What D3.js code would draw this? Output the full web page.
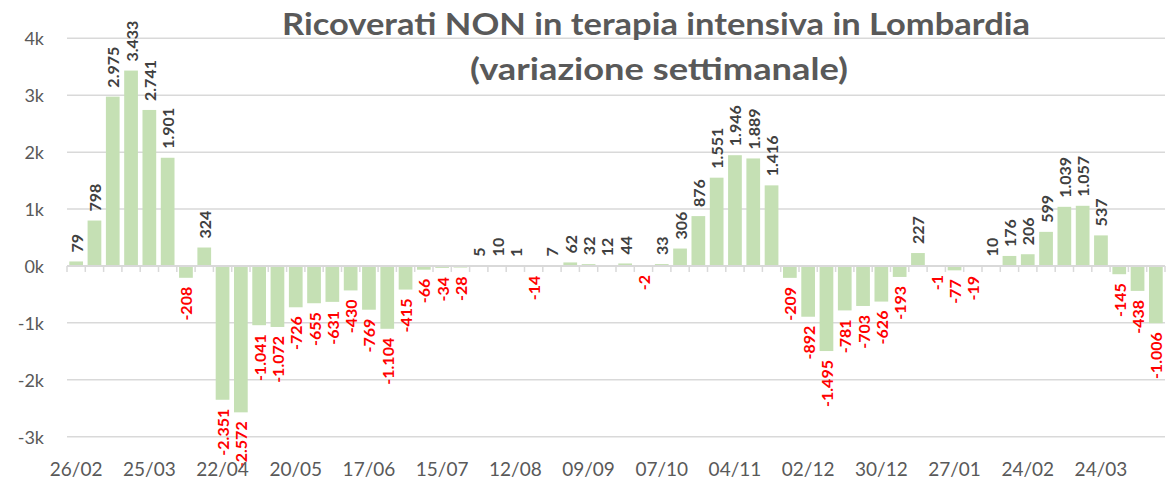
<!DOCTYPE html>
<html>
<head>
<meta charset="utf-8">
<script src="https://cdn.jsdelivr.net/npm/d3@7"></script>
<style>
  html, body { margin: 0; padding: 0; background: #ffffff; }
  svg { display: block; }
</style>
</head>
<body>
<svg id="chart" width="1170" height="480"></svg>
<script>
const titleLines = ["Ricoverati NON in terapia intensiva in Lombardia", "(variazione settimanale)"];

const categories = [
  "26/02","04/03","11/03","18/03","25/03","01/04","08/04","15/04","22/04","29/04",
  "06/05","13/05","20/05","27/05","03/06","10/06","17/06","24/06","01/07","08/07",
  "15/07","22/07","29/07","05/08","12/08","19/08","26/08","02/09","09/09","16/09",
  "23/09","30/09","07/10","14/10","21/10","28/10","04/11","11/11","18/11","25/11",
  "02/12","09/12","16/12","23/12","30/12","06/01","13/01","20/01","27/01","03/02",
  "10/02","17/02","24/02","03/03","10/03","17/03","24/03","31/03","07/04","14/04"
];

const values = [
  79, 798, 2975, 3433, 2741, 1901, -208, 324, -2351, -2572,
  -1041, -1072, -726, -655, -631, -430, -769, -1104, -415, -66,
  -34, -28, 5, 10, 1, -14, 7, 62, 32, 12,
  44, -2, 33, 306, 876, 1551, 1946, 1889, 1416, -209,
  -892, -1495, -781, -703, -626, -193, 227, -1, -77, -19,
  10, 176, 206, 599, 1039, 1057, 537, -145, -438, -1006
];

const xTickLabels = ["26/02","25/03","22/04","20/05","17/06","15/07","12/08","09/09","07/10","04/11","02/12","30/12","27/01","24/02","24/03"];
const yTicks = [-3000, -2000, -1000, 0, 1000, 2000, 3000, 4000];

const svg = d3.select("#chart");
const FONT = "Lato, 'Open Sans', sans-serif";

const x = d3.scaleBand().domain(categories).range([67, 1165]).paddingInner(0.25).paddingOuter(0.125);
const y = d3.scaleLinear().domain([-3000, 4000]).range([436.7, 38.3]);

const it = d3.formatLocale({decimal: ",", thousands: ".", grouping: [3], currency: ["€", ""], minus: "-"});
const fmtVal = it.format(",d");
const fmtK = v => (v / 1000) + "k";

// gridlines
svg.append("g").selectAll("line").data(yTicks.filter(d => d !== 0)).join("line")
  .attr("x1", 67).attr("x2", 1165)
  .attr("y1", d => y(d)).attr("y2", d => y(d))
  .attr("stroke", "#d9d9d9").attr("stroke-width", 1.5);

// y labels
svg.append("g").selectAll("text").data(yTicks).join("text")
  .attr("x", 44).attr("y", d => y(d))
  .attr("text-anchor", "end").attr("dominant-baseline", "central")
  .attr("font-family", FONT).attr("font-size", 18).attr("fill", "#595959")
  .text(fmtK);

// bars
svg.append("g").selectAll("rect").data(values).join("rect")
  .attr("x", (d, i) => x(categories[i]))
  .attr("width", x.bandwidth())
  .attr("y", d => y(Math.max(0, d)))
  .attr("height", d => Math.abs(y(d) - y(0)))
  .attr("fill", "#c5e0b4");

// zero axis line with ticks at category boundaries
const step = x.step();
const zeroG = svg.append("g");
zeroG.append("line").attr("x1", 67).attr("x2", 1165).attr("y1", y(0)).attr("y2", y(0))
  .attr("stroke", "#d9d9d9").attr("stroke-width", 2);
zeroG.selectAll("line.tick").data(d3.range(categories.length + 1)).join("line")
  .attr("class", "tick")
  .attr("x1", i => 67 + i * step).attr("x2", i => 67 + i * step)
  .attr("y1", y(0)).attr("y2", y(0) + 6)
  .attr("stroke", "#d9d9d9").attr("stroke-width", 1.5);

// data labels
svg.append("g").selectAll("text").data(values).join("text")
  .attr("transform", (d, i) => {
    const cx = x(categories[i]) + x.bandwidth() / 2;
    const yy = d >= 0 ? y(d) - 9 : y(d) + 9;
    return `translate(${cx},${yy}) rotate(-90)`;
  })
  .attr("text-anchor", d => d >= 0 ? "start" : "end")
  .attr("dominant-baseline", "central")
  .attr("font-family", FONT).attr("font-weight", "bold").attr("font-size", 16)
  .attr("fill", d => d >= 0 ? "#404040" : "#ff0000")
  .text(fmtVal);

// x labels
svg.append("g").selectAll("text").data(xTickLabels).join("text")
  .attr("x", d => x(d) + x.bandwidth() / 2)
  .attr("y", 476)
  .attr("text-anchor", "middle")
  .attr("font-family", FONT).attr("font-size", 19).attr("fill", "#595959")
  .text(d => d);

// title
const titleWidths = [748, 378];
svg.append("g").selectAll("text").data(titleLines).join("text")
  .attr("x", (d, i) => i === 0 ? 282 : 470).attr("y", (d, i) => i === 0 ? 35 : 80)
  .attr("text-anchor", "start")
  .attr("textLength", (d, i) => titleWidths[i])
  .attr("lengthAdjust", "spacingAndGlyphs")
  .attr("font-family", FONT).attr("font-weight", "bold").attr("font-size", 31)
  .attr("fill", "#595959")
  .text(d => d);
</script>
</body>
</html>
